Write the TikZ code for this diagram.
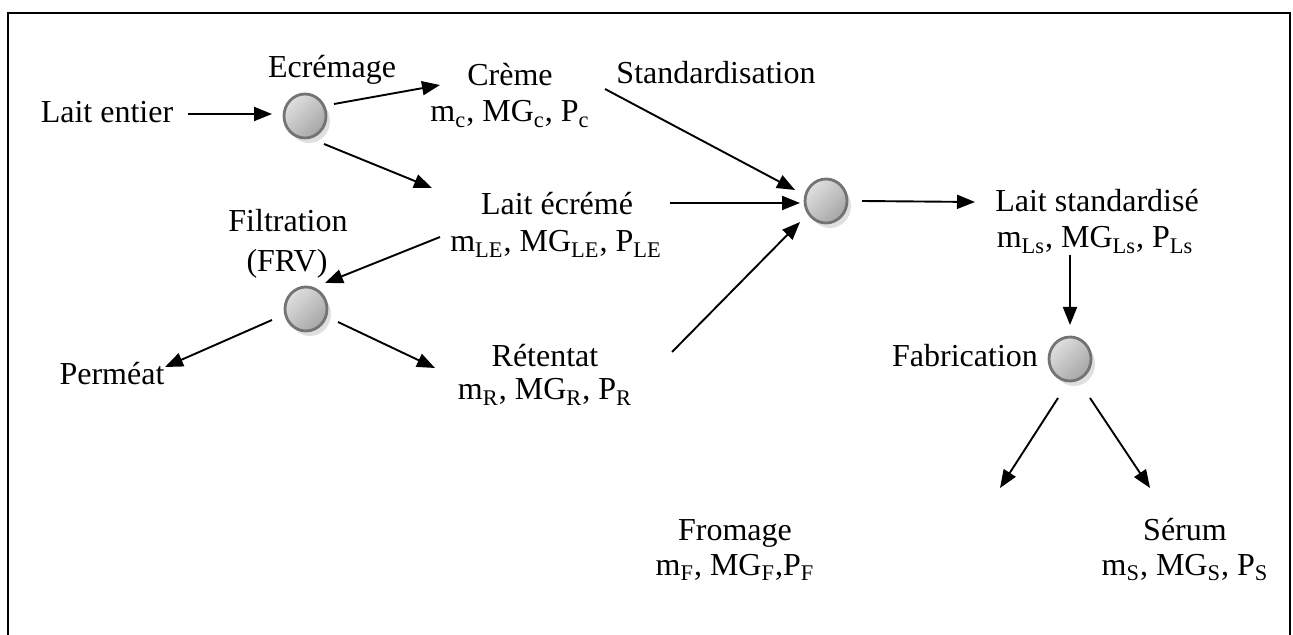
\documentclass[tikz,border=0pt]{standalone}
\usepackage{fontspec}
\setmainfont{Liberation Serif}
\usetikzlibrary{arrows.meta,shapes.geometric,shadows}
\begin{document}
\begin{tikzpicture}[x=0.5pt,y=-0.5pt,
  lbl/.style={inner sep=0pt, anchor=base, font=\fontsize{16}{19}\selectfont},
  unit/.style={ellipse, minimum width=21pt, minimum height=22pt, inner sep=0pt,
    draw=black!55, line width=1.4pt,
    top color=gray!25, bottom color=gray!70, shading angle=45,
    general shadow={fill=gray!25, shadow xshift=2pt, shadow yshift=-2.5pt}},
  flow/.style={-{Triangle[length=9pt,width=7pt]}, line width=0.95pt}]
\useasboundingbox (0,0) rectangle (1293,635);
% open frame (bottom edge lies below the page)
\draw[line width=1pt] (7.5,640) -- (7.5,13) -- (1289.5,13) -- (1289.5,640);

% process units
\node[unit] (s1) at (305,116) {};
\node[unit] (s2) at (306,309) {};
\node[unit] (s3) at (826,201) {};
\node[unit] (s4) at (1070,359) {};

% labels
\node[lbl] (entier)   at (107,123) {Lait entier};
\node[lbl] (ecremage) at (332,78)  {Ecrémage};
\node[lbl] (creme)    at (510,86)  {Crème};
\node[lbl] (cremeD)   at (510,122) {m\textsubscript{c}, MG\textsubscript{c}, P\textsubscript{c}};
\node[lbl] (stdlab)   at (716,84)  {Standardisation};
\node[lbl] (ecreme)   at (557,215) {Lait écrémé};
\node[lbl] (ecremeD)  at (556,252) {m\textsubscript{LE}, MG\textsubscript{LE}, P\textsubscript{LE}};
\node[lbl] (filt)     at (288,232) {Filtration};
\node[lbl] (frv)      at (287,272) {(FRV)};
\node[lbl] (permeat)  at (112,385) {Perméat};
\node[lbl] (retentat) at (545,366) {Rétentat};
\node[lbl] (retentatD) at (545,400) {m\textsubscript{R}, MG\textsubscript{R}, P\textsubscript{R}};
\node[lbl] (lstd)     at (1097,212) {Lait standardisé};
\node[lbl] (lstdD)    at (1095,248) {m\textsubscript{Ls}, MG\textsubscript{Ls}, P\textsubscript{Ls}};
\node[lbl] (fablab)   at (965,366) {Fabrication};
\node[lbl] (fromage)  at (735,540) {Fromage};
\node[lbl] (fromageD) at (735,575) {m\textsubscript{F}, MG\textsubscript{F},P\textsubscript{F}};
\node[lbl] (serum)    at (1185,540) {Sérum};
\node[lbl] (serumD)   at (1185,575) {m\textsubscript{S}, MG\textsubscript{S}, P\textsubscript{S}};

% flows
\draw[flow] ([shift={(81,-9)}]entier.base) -- ([shift={(-33,-2)}]s1.center);
\draw[flow] ([shift={(29,-12)}]s1.center) -- ([shift={(-70,-1)}]creme.base);
\draw[flow] ([shift={(19,28)}]s1.center) -- ([shift={(-125,-27)}]ecreme.base);
\draw[flow] ([shift={(95,3)}]creme.base) -- ([shift={(-31,-11)}]s3.center);
\draw[flow] ([shift={(113,-12)}]ecreme.base) -- ([shift={(-26,2)}]s3.center);
\draw[flow] ([shift={(127,-14)}]retentat.base) -- ([shift={(-26,21)}]s3.center);
\draw[flow] ([shift={(-116,-15)}]ecremeD.base) -- ([shift={(19,-26)}]s2.center);
\draw[flow] ([shift={(-34,11)}]s2.center) -- ([shift={(53,-18)}]permeat.base);
\draw[flow] ([shift={(32,13)}]s2.center) -- ([shift={(-110,2)}]retentat.base);
\draw[flow] ([shift={(36,0)}]s3.center) -- ([shift={(-122,-10)}]lstd.base);
\draw[flow] ([shift={(-25,7)}]lstdD.base) -- ([shift={(0,-34)}]s4.center);
\draw[flow] ([shift={(-12,39)}]s4.center) -- ([shift={(265,-52)}]fromage.base);
\draw[flow] ([shift={(20,39)}]s4.center) -- ([shift={(-35,-52)}]serum.base);
\end{tikzpicture}
\end{document}
